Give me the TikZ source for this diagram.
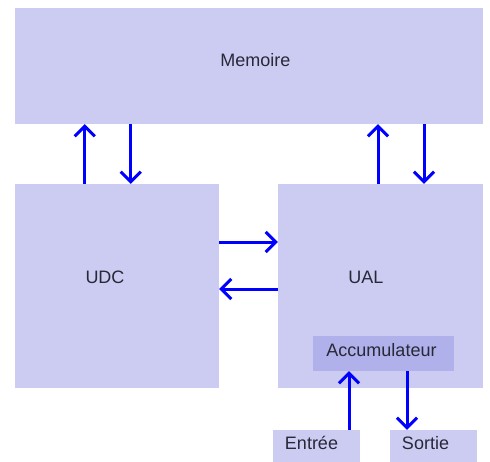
\documentclass[tikz,border=0pt]{standalone}
\usepackage{fontspec}
\setmainfont{Liberation Sans}
\usepackage{xcolor}
\usepackage{tikz}
\usetikzlibrary{arrows.meta,positioning,calc}

\definecolor{fondbloc}{RGB}{204,204,243}
\definecolor{fondacc}{RGB}{176,176,234}
\definecolor{texte}{RGB}{40,40,56}

\begin{document}
\begin{tikzpicture}
  [x=1pt,y=-1pt,
  bloc/.style={rectangle,fill=fondbloc,inner sep=0pt},
  acc/.style={rectangle,fill=fondacc,inner sep=0pt},
  txt/.style={text=texte,font=\fontsize{18}{20}\selectfont,inner sep=0pt},
  fleche/.style={-{Straight Barb[length=10pt,width=20pt,line width=3pt]},draw=blue,line width=3pt}
  ]
  \useasboundingbox (0,0) rectangle (490,461);
  \node[bloc,minimum width=468.5,minimum height=116.5] (memoire) at (248.75,65.75) {};
  \node[txt] (tmemoire) at (255.5,60) {Memoire};
  \node[bloc,minimum width=204.5,minimum height=204] (udc) at (116.75,286) {};
  \node[txt] (tudc) at (105,277) {UDC};
  \node[bloc,minimum width=205,minimum height=204] (ual) at (380.5,286) {};
  \node[txt] (tual) at (366,277) {UAL};
  \node[acc,minimum width=141,minimum height=35] (accu) at (383.5,353.5) {};
  \node[txt] (taccu) at (381.5,350) {Accumulateur};
  \node[bloc,minimum width=87,minimum height=32] (entree) at (316.5,446) {};
  \node[txt] (tentree) at (311.5,443) {Entrée};
  \node[bloc,minimum width=87,minimum height=32] (sortie) at (433.5,446) {};
  \node[txt] (tsortie) at (425.5,443) {Sortie};

  % memoire <-> udc / ual
  \draw[fleche] ([xshift=-32]udc.north) -- ([xshift=-32]udc.north |- memoire.south);
  \draw[fleche] ([xshift=14]udc.north |- memoire.south) -- ([xshift=14]udc.north);
  \draw[fleche] ([xshift=-2.5]ual.north) -- ([xshift=-2.5]ual.north |- memoire.south);
  \draw[fleche] ([xshift=43.5]ual.north |- memoire.south) -- ([xshift=43.5]ual.north);
  % udc <-> ual
  \draw[fleche] ([yshift=44]udc.east) -- ([yshift=44]udc.east -| ual.west);
  \draw[fleche] ([yshift=-3]udc.east -| ual.west) -- ([yshift=-3]udc.east);
  % accumulateur
  \draw[fleche] ([xshift=32.5]entree.north) -- ([xshift=32.5]entree.north |- accu.south);
  \draw[fleche] ([xshift=23.5]accu.south) -- ([xshift=23.5]accu.south |- sortie.north);
\end{tikzpicture}
\end{document}
